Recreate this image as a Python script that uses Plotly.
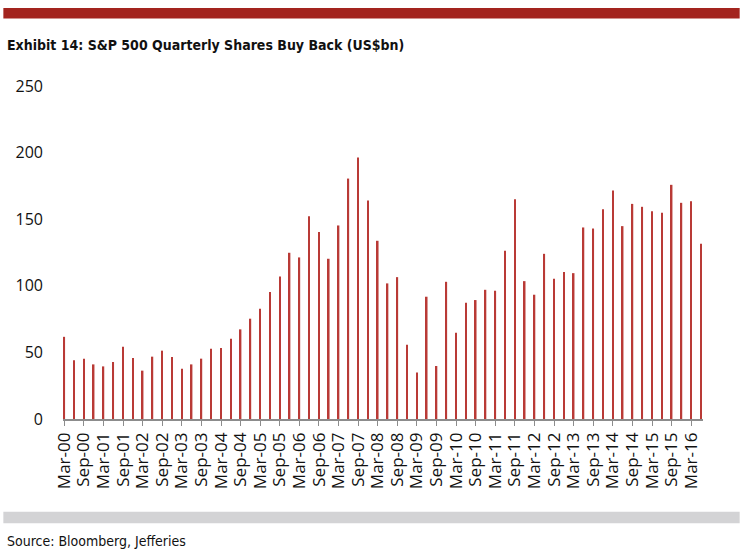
import plotly.graph_objects as go

quarters = []
for yr in range(0, 17):
    for m in ["Mar", "Jun", "Sep", "Dec"]:
        quarters.append(f"{m}-{yr:02d}")
quarters = quarters[:66]  # Mar-00 .. Jun-16

buyback = [61.7, 44.2, 45.3, 41.0, 39.5, 42.8, 54.3, 45.8, 36.3, 46.8,
           51.3, 46.5, 37.8, 41.0, 45.3, 52.8, 53.3, 60.3, 67.3, 75.3,
           82.8, 95.3, 107.0, 124.8, 121.3, 152.3, 140.3, 120.3, 145.3, 180.5,
           196.3, 164.0, 133.8, 101.8, 106.5, 55.8, 35.0, 91.8, 39.8, 103.0,
           64.8, 87.3, 89.3, 97.0, 96.3, 126.3, 165.0, 103.5, 93.3, 124.0,
           105.3, 110.3, 109.5, 143.8, 143.0, 157.5, 171.5, 144.8, 161.5, 159.3,
           156.0, 154.8, 175.8, 162.3, 163.5, 131.5]

tick_idx = list(range(0, 66, 2))
tick_text = [quarters[i] for i in tick_idx]
y_ticks = [0, 50, 100, 150, 200, 250]

x_idx = list(range(len(buyback)))

fig = go.Figure(go.Bar(
    x=x_idx, y=buyback, width=0.16,
    marker=dict(color="#B93A36", line=dict(width=0)),
    hoverinfo="text", hovertext=[f"{q}: {v}" for q, v in zip(quarters, buyback)],
))

L, T, W, H = 62.7, 86.0, 640.6, 333.0
def px(x):
    return (x - L) / W
def py(y):
    return (T + H - y) / H

NARROW = "Liberation Sans Narrow, DejaVu Sans Condensed, Roboto"

fig.update_layout(
    width=747, height=560,
    margin=dict(l=L, r=747 - L - W, t=T, b=560 - T - H, pad=0),
    paper_bgcolor="white", plot_bgcolor="white",
    showlegend=False,
    font=dict(family="Open Sans, DejaVu Sans", color="#111111"),
    xaxis=dict(
        range=[-0.13, 65.2], tickmode="array", tickvals=tick_idx, ticktext=tick_text,
        tickangle=-90, tickfont=dict(size=17, family="Open Sans", color="#111111"),
        showline=True, linecolor="#8C8C8C", linewidth=1.5,
        ticks="outside", ticklen=5, tickcolor="#8C8C8C", tickwidth=1.2,
        showgrid=False, zeroline=False, fixedrange=True,
    ),
    yaxis=dict(
        range=[0, 250], tickmode="array", tickvals=y_ticks,
        tickfont=dict(size=16, family="Open Sans", color="#111111"),
        showline=False, showgrid=False, zeroline=False, ticks="", ticklabelstandoff=19,
        fixedrange=True,
    ),
    shapes=[
        dict(type="rect", xref="paper", yref="paper", x0=px(3), x1=px(740),
             y0=py(18.5), y1=py(8.0), fillcolor="#A3241E", line=dict(width=0), layer="above"),
        dict(type="rect", xref="paper", yref="paper", x0=px(3), x1=px(740),
             y0=py(523.3), y1=py(511.7), fillcolor="#D3D3D5", line=dict(width=0), layer="above"),
    ],
    annotations=[
        dict(text="<b>Exhibit 14: S&P 500 Quarterly Shares Buy Back (US$bn)</b>",
             xref="paper", yref="paper", x=px(5), y=py(45), xanchor="left", yanchor="middle",
             showarrow=False, font=dict(size=14, family=NARROW, color="#111111")),
        dict(text="Source: Bloomberg, Jefferies",
             xref="paper", yref="paper", x=px(5), y=py(541), xanchor="left", yanchor="middle",
             showarrow=False, font=dict(size=14, family=NARROW, color="#111111")),
    ],
)

fig.write_html("out.html", config={"displayModeBar": False},
               post_script="document.body.style.margin='0';")
